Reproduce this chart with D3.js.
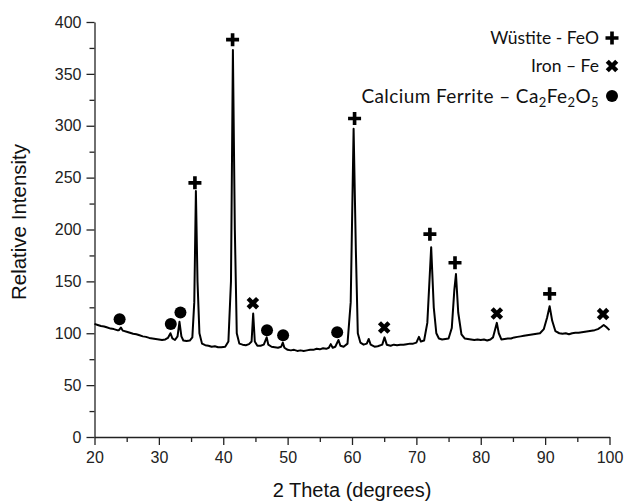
<!DOCTYPE html>
<html>
<head>
<meta charset="utf-8">
<script src="https://cdn.jsdelivr.net/npm/d3@7"></script>
<style>
  html, body { margin: 0; padding: 0; background: #fff; }
  svg { display: block; }
</style>
</head>
<body>
<svg id="chart" width="627" height="501"></svg>
<script>
// ---- data ----
const twoTheta = [
  20, 20.5, 21, 21.5, 22, 22.5, 23, 23.5, 23.8, 24.1, 24.4, 25, 25.5, 26, 26.5, 27, 27.5, 28, 28.5, 29, 29.5, 30, 30.5, 31, 31.4,
  31.8, 32.1, 32.5, 32.9, 33.2, 33.5, 33.8, 34.3, 34.8, 35.2, 35.5, 35.75, 36.0, 36.3, 36.7, 37.2, 37.7, 38.2, 38.7, 39.2, 39.7,
  40.3, 40.8, 41.2, 41.5, 41.8, 42.1, 42.5, 43, 43.5, 44, 44.4, 44.65, 44.9, 45.3, 45.8, 46.3, 46.75, 47.0, 47.5, 48, 48.5, 49,
  49.25, 49.5, 50, 50.5, 51, 51.5, 52, 52.5, 53, 53.5, 54, 54.5, 55, 55.5, 56, 56.4, 56.7, 57.0, 57.4, 57.9, 58.2, 58.7, 59.3,
  59.8, 60.25, 60.6, 60.9, 61.3, 61.8, 62.3, 62.6, 62.9, 63.5, 64, 64.7, 65.05, 65.4, 66, 66.5, 67, 67.5, 68, 68.5, 69, 69.5, 70,
  70.4, 70.7, 71.2, 71.7, 72.3, 72.7, 73.1, 73.5, 74, 74.5, 75, 75.5, 75.9, 76.15, 76.5, 77, 77.5, 78, 78.5, 79, 79.5, 80, 80.5,
  81, 81.5, 81.9, 82.2, 82.5, 82.8, 83.2, 83.7, 84.2, 84.7, 85.2, 85.7, 86.2, 86.7, 87.2, 87.7, 88.2, 88.7, 89.2, 89.8, 90.3,
  90.7, 91.1, 91.6, 92.2, 92.7, 93.2, 93.7, 94.2, 94.7, 95.2, 95.7, 96.2, 96.7, 97.2, 97.7, 98.2, 98.7, 99.1, 99.5, 100
];
const intensity = [
  109, 108, 107, 106.5, 105.5, 104.5, 104, 103, 103, 105.5, 102.5, 101.5, 100.5, 99.5, 99, 98, 97, 96.5, 95.5, 95, 94.5, 94, 93.5, 94, 95.5,
  100, 95, 93.5, 97, 111, 97, 93, 92.5, 93, 96, 130, 237, 150, 100, 90, 88.5, 88, 87, 87.5, 86.5, 86.5,
  87, 92, 150, 373, 200, 100, 90, 89, 88.5, 89.5, 92, 119, 92, 88, 88, 89, 96, 89, 87, 86.5, 86, 87,
  91, 86, 84, 83.5, 84, 83, 83.5, 83, 83.5, 84, 84, 85, 84.5, 85.5, 85, 86, 89.5, 86, 87, 93.5, 88, 87, 90,
  130, 297, 180, 100, 91, 89, 90, 94.5, 89, 87, 87.5, 89, 96, 89, 88, 89, 88.5, 89, 89, 89.5, 90, 90, 91,
  96.5, 92, 93, 110, 183, 125, 100, 95, 94, 94.5, 95, 105, 142, 157, 120, 99, 95, 94.5, 94, 93.5, 94, 93.5, 94,
  93, 94, 96, 103, 110, 100, 94, 94.5, 95, 95, 96, 96.5, 97, 97.5, 98, 98.5, 99, 99.5, 100, 104, 115,
  126, 112, 102, 100, 99.5, 100, 99, 100, 100.5, 100.5, 101, 101.5, 102, 102.5, 103, 104, 106, 108, 106, 103
];
// peak markers
const wustitePeaks = [35.6, 41.45, 60.4, 72.1, 76.0, 90.7];
const wustiteY     = [245, 383, 307, 195.5, 168, 138];
const ironPeaks    = [44.6, 65.0, 82.5, 99.0];
const ironY        = [129, 105.5, 119, 118.5];
const cafPeaks     = [23.9, 31.85, 33.35, 46.8, 49.3, 57.7];
const cafY         = [113.5, 109, 120, 103, 98, 101];

const xTicks = [20, 30, 40, 50, 60, 70, 80, 90, 100];
const xMinor = [25, 35, 45, 55, 65, 75, 85, 95];
const yTicks = [0, 50, 100, 150, 200, 250, 300, 350, 400];
const yMinor = [25, 75, 125, 175, 225, 275, 325, 375];

const legendLabels = ["Wüstite - FeO", "Iron – Fe", "Calcium Ferrite – "];

// ---- layout ----
const svg = d3.select("#chart");
const x = d3.scaleLinear().domain([20, 100]).range([94.5, 609.5]);
const y = d3.scaleLinear().domain([0, 400]).range([437, 22]);
const tickFont = "Liberation Sans, Arial, sans-serif";

// minor ticks
const gxm = svg.append("g").attr("transform", `translate(0,${y(0)})`)
  .call(d3.axisBottom(x).tickValues(xMinor).tickSize(5).tickFormat("").tickSizeOuter(0));
gxm.select(".domain").remove();
const gym = svg.append("g").attr("transform", `translate(${x(20)},0)`)
  .call(d3.axisLeft(y).tickValues(yMinor).tickSize(5).tickFormat("").tickSizeOuter(0));
gym.select(".domain").remove();

const gx = svg.append("g").attr("transform", `translate(0,${y(0)})`)
  .call(d3.axisBottom(x).tickValues(xTicks).tickSize(8).tickPadding(7).tickSizeOuter(0));
const gy = svg.append("g").attr("transform", `translate(${x(20)},0)`)
  .call(d3.axisLeft(y).tickValues(yTicks).tickSize(8).tickPadding(5).tickSizeOuter(0));

[gx, gy, gxm, gym].forEach(g => {
  g.selectAll("line").attr("stroke", "#222").attr("stroke-width", 1.3);
  g.selectAll(".domain").attr("stroke", "#222").attr("stroke-width", 1.3);
  g.selectAll("text").attr("font-family", tickFont).attr("font-size", 16).attr("fill", "#222");
});

// axis titles
svg.append("text").attr("x", 352).attr("y", 497).attr("text-anchor", "middle")
  .attr("font-family", tickFont).attr("font-size", 20).attr("fill", "#111").text("2 Theta (degrees)");
svg.append("text").attr("transform", "translate(26,222) rotate(-90)").attr("text-anchor", "middle")
  .attr("font-family", tickFont).attr("font-size", 20.5).attr("fill", "#111").text("Relative Intensity");

// pattern line
const pts = twoTheta.map((t, i) => [t, intensity[i]]);
svg.append("path").datum(pts)
  .attr("fill", "none").attr("stroke", "#000").attr("stroke-width", 2).attr("stroke-linejoin", "round")
  .attr("d", d3.line().x(d => x(d[0])).y(d => y(d[1])));

// marker symbols
const plusPath = (s) => {
  const a = s / 2, b = s * 0.14;
  return `M${-b},${-a}H${b}V${-b}H${a}V${b}H${b}V${a}H${-b}V${b}H${-a}V${-b}H${-b}Z`;
};
function drawPlus(cx, cy) {
  svg.append("path").attr("d", plusPath(13)).attr("transform", `translate(${cx},${cy})`).attr("fill", "#000");
}
function drawCross(cx, cy) {
  svg.append("path").attr("d", d3.symbol().type(d3.symbolX).size(60)()).attr("transform", `translate(${cx},${cy})`)
    .attr("fill", "none").attr("stroke", "#000").attr("stroke-width", 4.4);
}
function drawDot(cx, cy) {
  svg.append("circle").attr("cx", cx).attr("cy", cy).attr("r", 6).attr("fill", "#000");
}
wustitePeaks.forEach((t, i) => drawPlus(x(t), y(wustiteY[i])));
ironPeaks.forEach((t, i) => drawCross(x(t), y(ironY[i])));
cafPeaks.forEach((t, i) => drawDot(x(cafPeaks[i]), y(cafY[i])));

// legend
const legFont = "Lato, 'Open Sans', sans-serif";
const legX = 599, legRows = [38, 66, 96], symX = 612;
svg.append("text").attr("x", legX).attr("y", legRows[0]).attr("dy", "0.35em").attr("text-anchor", "end")
  .attr("font-family", legFont).attr("font-size", 17.5).attr("fill", "#111").text(legendLabels[0]);
svg.append("text").attr("x", legX).attr("y", legRows[1]).attr("dy", "0.35em").attr("text-anchor", "end")
  .attr("font-family", legFont).attr("font-size", 17.5).attr("fill", "#111").text(legendLabels[1]);
const t3 = svg.append("text").attr("x", legX).attr("y", legRows[2]).attr("dy", "0.35em").attr("text-anchor", "end")
  .attr("font-family", legFont).attr("font-size", 19).attr("letter-spacing", 0.4).attr("fill", "#111");
t3.append("tspan").text(legendLabels[2] + "Ca");
t3.append("tspan").attr("font-size", 13).attr("dy", 4).text("2");
t3.append("tspan").attr("dy", -4).text("Fe");
t3.append("tspan").attr("font-size", 13).attr("dy", 4).text("2");
t3.append("tspan").attr("dy", -4).text("O");
t3.append("tspan").attr("font-size", 13).attr("dy", 4).text("5");
drawPlus(symX, legRows[0]);
drawCross(symX, legRows[1]);
drawDot(symX, legRows[2]);
</script>
</body>
</html>
